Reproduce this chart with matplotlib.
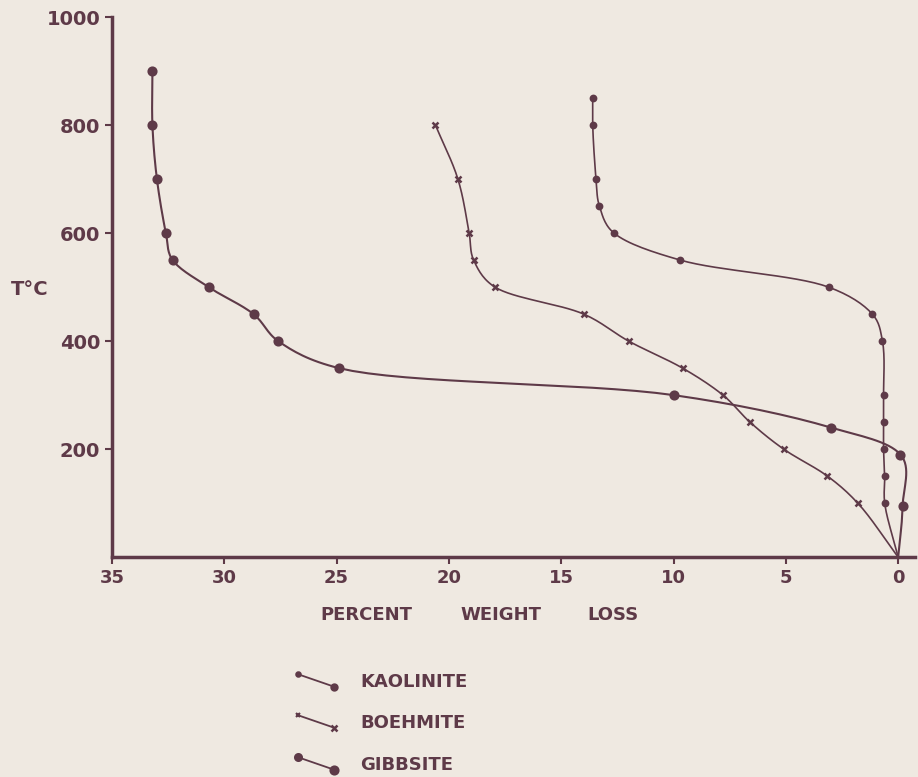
import numpy as np
import matplotlib
matplotlib.use("Agg")
import matplotlib.pyplot as plt
from matplotlib.lines import Line2D

# percent weight loss vs temperature
kaol_loss = [13.6, 13.6, 13.45, 13.3, 12.65, 9.7, 3.1, 1.15, 0.7, 0.65, 0.65, 0.65, 0.6, 0.6, 0.0]
kaol_temp = [850, 800, 700, 650, 600, 550, 500, 450, 400, 300, 250, 200, 150, 100, 0]

boeh_loss = [20.6, 19.6, 19.1, 18.9, 17.95, 14.0, 12.0, 9.6, 7.8, 6.6, 5.1, 3.15, 1.8, 0.0]
boeh_temp = [800, 700, 600, 550, 500, 450, 400, 350, 300, 250, 200, 150, 100, 0]

gibb_loss = [33.2, 33.2, 33.0, 32.6, 32.3, 30.7, 28.7, 27.6, 24.9, 10.0, 3.0, -0.1, -0.2, 0.0]
gibb_temp = [900, 800, 700, 600, 550, 500, 450, 400, 350, 300, 240, 190, 95, 0]

xticks = [35, 30, 25, 20, 15, 10, 5, 0]
yticks = [200, 400, 600, 800, 1000]

ink = "#5e3a48"
paper = "#efe9e1"


def smooth(xs, ys, sx=35.0, sy=1000.0, n=16):
    # centripetal catmull-rom through the points, axes scaled alike
    p = np.column_stack([np.array(xs) / sx, np.array(ys) / sy])
    p = np.vstack([2 * p[0] - p[1], p, 2 * p[-1] - p[-2]])
    out = []
    for i in range(1, len(p) - 2):
        p0, p1, p2, p3 = p[i - 1], p[i], p[i + 1], p[i + 2]
        t0 = 0.0
        t1 = t0 + np.linalg.norm(p1 - p0) ** 0.5 + 1e-9
        t2 = t1 + np.linalg.norm(p2 - p1) ** 0.5 + 1e-9
        t3 = t2 + np.linalg.norm(p3 - p2) ** 0.5 + 1e-9
        t = np.linspace(t1, t2, n, endpoint=False)[:, None]
        a1 = (t1 - t) / (t1 - t0) * p0 + (t - t0) / (t1 - t0) * p1
        a2 = (t2 - t) / (t2 - t1) * p1 + (t - t1) / (t2 - t1) * p2
        a3 = (t3 - t) / (t3 - t2) * p2 + (t - t2) / (t3 - t2) * p3
        b1 = (t2 - t) / (t2 - t0) * a1 + (t - t0) / (t2 - t0) * a2
        b2 = (t3 - t) / (t3 - t1) * a2 + (t - t1) / (t3 - t1) * a3
        out.append((t2 - t) / (t2 - t1) * b1 + (t - t1) / (t2 - t1) * b2)
    out.append(p[-2][None, :])
    out = np.vstack(out)
    return out[:, 0] * sx, out[:, 1] * sy


fig = plt.figure(figsize=(9.18, 7.77), dpi=100, facecolor=paper)
ax = fig.add_axes([0.122, 0.283, 0.875, 0.695])
ax.set_facecolor(paper)

for xs, ys, mk, ms, lw in [(kaol_loss, kaol_temp, "o", 3.8, 1.2),
                           (boeh_loss, boeh_temp, "x", 5.0, 1.2),
                           (gibb_loss, gibb_temp, "o", 5.5, 1.5)]:
    sxs, sys_ = smooth(xs, ys)
    ax.plot(sxs, sys_, color=ink, lw=lw)
    ax.plot(xs[:-1], ys[:-1], ls="none", marker=mk, ms=ms, color=ink, mew=1.8)

ax.set_xlim(35, -0.76)
ax.set_ylim(0, 1000)
ax.set_xticks(xticks)
ax.set_yticks(yticks)
ax.set_xticklabels([str(v) for v in xticks], fontsize=13, fontweight="bold", color=ink)
ax.set_yticklabels([str(v) for v in yticks], fontsize=14, fontweight="bold", color=ink)
ax.tick_params(colors=ink, length=5, width=1.5)
for s in ["top", "right"]:
    ax.spines[s].set_visible(False)
for s in ["left", "bottom"]:
    ax.spines[s].set_color(ink)
    ax.spines[s].set_linewidth(2.5)

fig.text(0.012, 0.627, "T\u00b0C", fontsize=14, fontweight="bold", color=ink, va="center")
for word, xc in [("PERCENT", 366), ("WEIGHT", 501), ("LOSS", 613)]:
    fig.text(xc / 918, 1 - 615 / 777, word, fontsize=13, fontweight="bold",
             color=ink, ha="center", va="center")

# legend, drawn by hand like the original
names = ["KAOLINITE", "BOEHMITE", "GIBBSITE"]
marks = [("o", 3.2, 4.2), ("x", 3.5, 4.5), ("o", 5.0, 5.5)]
rows = [682, 723, 765]
for name, (mk, m0, m1), row in zip(names, marks, rows):
    y0 = 1 - row / 777
    x0, x1 = 298 / 918, 334 / 918
    fig.add_artist(Line2D([x0, x1], [y0 + 0.010, y0 - 0.006], color=ink, lw=1.3))
    fig.add_artist(Line2D([x0], [y0 + 0.010], marker=mk, ms=m0, color=ink, mew=1.5))
    fig.add_artist(Line2D([x1], [y0 - 0.006], marker=mk, ms=m1, color=ink, mew=1.8))
    fig.text(360 / 918, y0, name, fontsize=13, fontweight="bold", color=ink, va="center")

fig.savefig("out.png", dpi=100, facecolor=paper)
